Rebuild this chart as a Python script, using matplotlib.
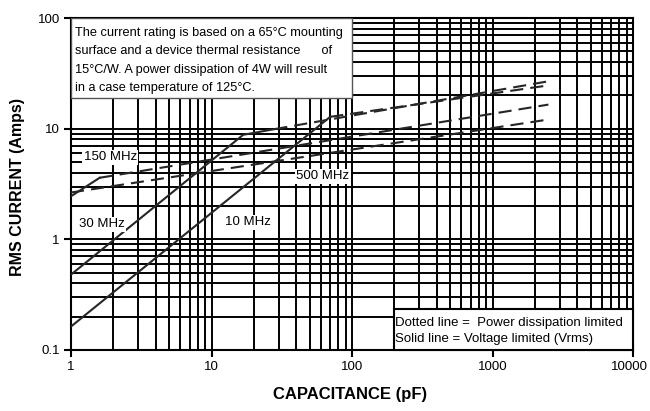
import matplotlib
matplotlib.use('Agg')
import matplotlib.pyplot as plt
from matplotlib import font_manager
from matplotlib.patches import Rectangle
from matplotlib.transforms import ScaledTranslation
from matplotlib.ticker import FixedLocator, FixedFormatter, LogLocator, NullFormatter

names = {f.name for f in font_manager.fontManager.ttflist}
FONT = 'Liberation Sans Narrow' if 'Liberation Sans Narrow' in names else 'Liberation Sans'
plt.rcParams['font.family'] = [FONT, 'DejaVu Sans']

# ---- data ----
x_ticks = [1, 10, 100, 1000, 10000]
x_tick_labels = ['1', '10', '100', '1000', '10000']
y_ticks = [0.1, 1, 10, 100]
y_tick_labels = ['0.1', '1', '10', '100']

# voltage limited (solid)
cap_10_solid = [1, 70]
cur_10_solid = [0.163, 12.8]
cap_30_solid = [1, 16.8, 28]
cur_30_solid = [0.48, 8.8, 9.9]
cap_150_solid = [1, 1.6]
cur_150_solid = [2.45, 3.6]

# power dissipation limited (dashed)
cap_10_pwr = [70, 2500]
cur_10_pwr = [12.8, 24.6]
cap_30_pwr = [28, 2500]
cur_30_pwr = [9.9, 26.8]
cap_150_pwr = [1.6, 2500]
cur_150_pwr = [3.6, 16.5]
cap_500_pwr = [1, 2500]
cur_500_pwr = [2.65, 12.1]

freq_labels = ['150 MHz', '30 MHz', '10 MHz', '500 MHz']
freq_label_x = [1.9, 1.66, 18.2, 62]
freq_label_y = [5.5, 1.37, 1.42, 3.7]

note_lines = ['The current rating is based on a 65\u00b0C mounting',
              'surface and a device thermal resistance      of',
              '15\u00b0C/W. A power dissipation of 4W will result',
              'in a case temperature of 125\u00b0C.']
legend_lines = ['Dotted line =  Power dissipation limited',
                'Solid line = Voltage limited (Vrms)']

W, H = 650, 411
fig = plt.figure(figsize=(W / 100, H / 100), dpi=100)
ax = fig.add_axes([71 / W, 1 - 350 / H, (633 - 71) / W, (350 - 18) / H])
ax.set_xscale('log')
ax.set_yscale('log')
ax.set_xlim(1, 10000)
ax.set_ylim(0.1, 100)

ax.xaxis.set_major_locator(FixedLocator(x_ticks))
ax.xaxis.set_major_formatter(FixedFormatter(x_tick_labels))
ax.yaxis.set_major_locator(FixedLocator(y_ticks))
ax.yaxis.set_major_formatter(FixedFormatter(y_tick_labels))
ax.xaxis.set_minor_locator(LogLocator(base=10, subs=range(2, 10), numticks=20))
ax.yaxis.set_minor_locator(LogLocator(base=10, subs=range(2, 10), numticks=20))
ax.xaxis.set_minor_formatter(NullFormatter())
ax.yaxis.set_minor_formatter(NullFormatter())
ax.tick_params(which='major', length=5, width=1.5, direction='out', labelsize=9.5, pad=3, colors='black')
ax.tick_params(which='minor', length=0)
ax.grid(which='both', color='black', linewidth=1.4)
ax.set_axisbelow(True)
for s in ax.spines.values():
    s.set_linewidth(1.5)
    s.set_color('black')

fig.canvas.draw()
last = ax.get_xticklabels()[-1]
last.set_transform(last.get_transform() + ScaledTranslation(-4 / 100, 0, fig.dpi_scale_trans))

lc = '#262626'
lw = 1.5
dash = (6.3, 3.4)
ax.plot(cap_10_solid, cur_10_solid, color=lc, lw=lw, zorder=4)
ax.plot(cap_30_solid, cur_30_solid, color=lc, lw=lw, zorder=4)
ax.plot(cap_150_solid, cur_150_solid, color=lc, lw=lw, zorder=4)
for cx, cy in [(cap_10_pwr, cur_10_pwr), (cap_30_pwr, cur_30_pwr),
               (cap_150_pwr, cur_150_pwr), (cap_500_pwr, cur_500_pwr)]:
    ax.plot(cx, cy, color=lc, lw=lw, dashes=dash, zorder=4)

for t, x, y in zip(freq_labels, freq_label_x, freq_label_y):
    ax.text(x, y, t, fontsize=9.5, ha='center', va='center', zorder=6,
            bbox=dict(facecolor='white', edgecolor='none', pad=1.0))

# note box (top-left)
ax.add_patch(Rectangle((1, 19), 99, 81, transform=ax.transData, facecolor='white',
                       edgecolor='#555555', linewidth=1.0, zorder=5))
for i, line in enumerate(note_lines):
    fig.text(75 / W, 1 - (33 + 18.5 * i) / H, line, fontsize=9.2, ha='left', va='center', zorder=7)

# legend box (bottom-right)
ax.add_patch(Rectangle((200, 0.1), 9800, 0.136, transform=ax.transData, facecolor='white',
                       edgecolor='black', linewidth=1.5, zorder=5, clip_on=False))
for i, line in enumerate(legend_lines):
    fig.text(395 / W, 1 - (323 + 16 * i) / H, line, fontsize=9.5, ha='left', va='center', zorder=7)

fig.text(18 / W, 1 - 187 / H, 'RMS CURRENT (Amps)', rotation=90, fontsize=11.5,
         fontweight='bold', ha='center', va='center')
fig.text(350 / W, 1 - 394 / H, 'CAPACITANCE (pF)', fontsize=12,
         fontweight='bold', ha='center', va='center')

fig.savefig('out.png', dpi=100)
